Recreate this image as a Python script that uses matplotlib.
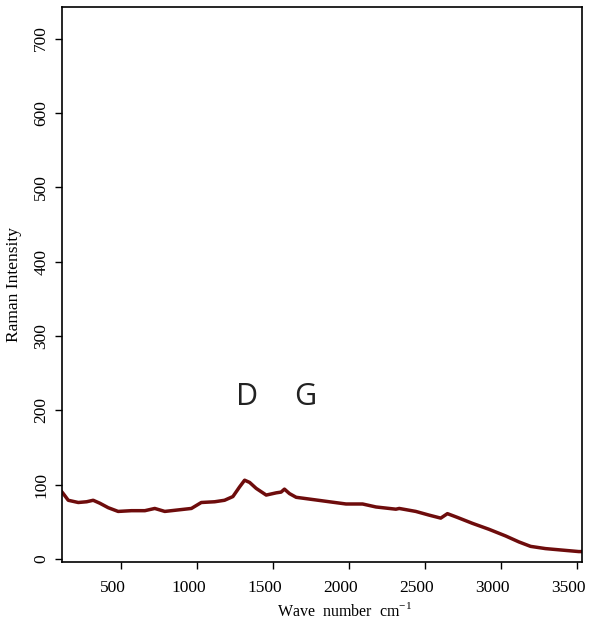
import numpy as np
import matplotlib.pyplot as plt
import matplotlib.transforms as mtransforms

plt.rcParams['font.family'] = ['Liberation Serif', 'DejaVu Serif']
plt.rcParams['mathtext.fontset'] = 'custom'
plt.rcParams['mathtext.rm'] = 'Liberation Serif'

# values (wave number, intensity)
wave = [115, 123, 156, 222, 277, 320, 364, 419, 484, 572, 660, 725, 791, 878, 966,
        1031, 1119, 1184, 1239, 1283, 1316, 1349, 1392, 1458, 1524, 1556, 1578,
        1611, 1655, 1764, 1873, 1983, 2092, 2180, 2311, 2333, 2442, 2530, 2606,
        2650, 2715, 2814, 2923, 3033, 3120, 3197, 3295, 3404, 3514, 3535]
intensity = [90, 88, 79, 76, 77, 79, 75, 69, 64, 65, 65, 68, 64, 66, 68,
             76, 77, 79, 84, 97, 106, 103, 95, 86, 89, 90, 94,
             88, 83, 80, 77, 74, 74, 70, 67, 68, 64, 59, 55,
             61, 56, 48, 40, 31, 23, 17, 14, 12, 10, 10]

peak_names = ['D', 'G']
peak_pos = [1329, 1716]
peak_y = 218

fig = plt.figure(figsize=(5.9, 6.25), dpi=100)
ax = fig.add_axes([0.1046, 0.1013, 0.8818, 0.887])

ax.plot(wave, intensity, color='#6e0c0c', lw=2.5)

for name, pos in zip(peak_names, peak_pos):
    ax.text(pos, peak_y, name, family=['Open Sans', 'DejaVu Sans'], fontsize=22,
            ha='center', va='center', color='#222222')

ax.set_xlim(113, 3535)
ax.set_ylim(-3.6, 742)
ax.set_xticks([500, 1000, 1500, 2000, 2500, 3000, 3500])
ax.set_yticks([0, 100, 200, 300, 400, 500, 600, 700])
ax.tick_params(direction='out', length=5, width=1, labelsize=12.5)
ax.tick_params(axis='x', pad=8)
ax.tick_params(axis='y', pad=4)
for lab in ax.get_yticklabels():
    lab.set_rotation(90)
    lab.set_va('center')
# x tick labels sit a little left of their ticks in the original
shift = mtransforms.ScaledTranslation(-8 / 100, 0, fig.dpi_scale_trans)
for lab in ax.get_xticklabels():
    lab.set_transform(lab.get_transform() + shift)
for sp in ax.spines.values():
    sp.set_linewidth(1.2)

ax.set_xlabel(r'Wave  number  cm$^{\mathregular{-1}}$', fontsize=11.5)
ax.xaxis.set_label_coords(0.543, -0.073)
ax.set_ylabel('Raman Intensity', fontsize=12.5)
ax.yaxis.set_label_coords(-0.076, 0.5)

fig.savefig('out.png', dpi=100)
